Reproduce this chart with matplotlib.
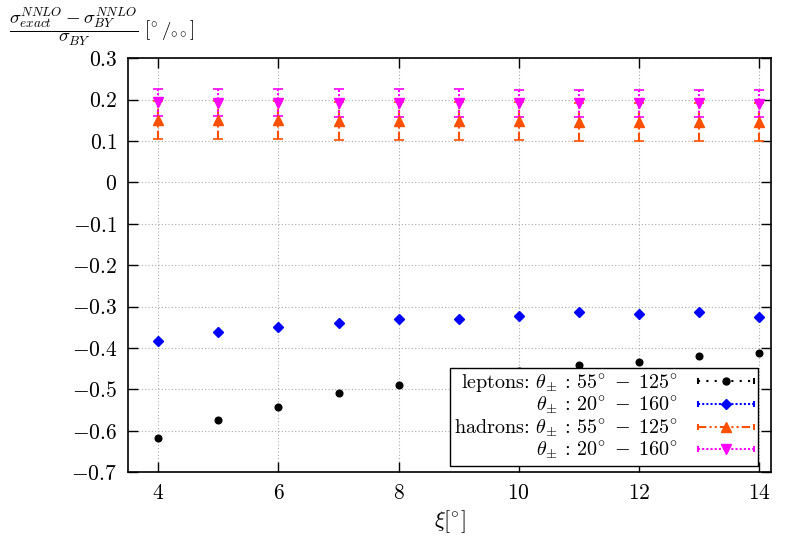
"""
Relative difference between exact NNLO and BY NNLO cross sections vs xi.
"""

import matplotlib
matplotlib.use("Agg")
import matplotlib.pyplot as plt
from matplotlib.lines import Line2D
from matplotlib.legend_handler import HandlerLine2D, HandlerTuple

plt.rcParams["font.family"] = "serif"
plt.rcParams["font.serif"] = ["cmr10", "DejaVu Serif"]
plt.rcParams["mathtext.fontset"] = "cm"
plt.rcParams["axes.formatter.use_mathtext"] = True
plt.rcParams["axes.unicode_minus"] = True

xi = [4, 5, 6, 7, 8, 9, 10, 11, 12, 13, 14]

lep_55 = [-0.618, -0.574, -0.542, -0.508, -0.489, -0.471, -0.456, -0.441, -0.433, -0.419, -0.411]
lep_20 = [-0.383, -0.361, -0.350, -0.339, -0.329, -0.329, -0.323, -0.314, -0.318, -0.312, -0.324]
had_55 = [0.152, 0.151, 0.150, 0.149, 0.149, 0.148, 0.148, 0.147, 0.147, 0.147, 0.146]
had_20 = [0.194, 0.193, 0.193, 0.192, 0.192, 0.192, 0.191, 0.191, 0.191, 0.191, 0.190]
had_55_err = [0.046] * len(xi)
had_20_err = [0.033] * len(xi)

labels = [
    r"leptons: $\theta_{\pm}$ : $55^{\circ}\;-\;125^{\circ}$",
    r"$\theta_{\pm}$ : $20^{\circ}\;-\;160^{\circ}$",
    r"hadrons: $\theta_{\pm}$ : $55^{\circ}\;-\;125^{\circ}$",
    r"$\theta_{\pm}$ : $20^{\circ}\;-\;160^{\circ}$",
]

c_black = "black"
c_blue = "#0000ff"
c_orange = "#ff5000"
c_magenta = "#ff00ff"

fig = plt.figure(figsize=(7.89, 5.52), dpi=100)
ax = fig.add_axes([0.1626, 0.1444, 0.8146, 0.75])

ax.grid(True, color="#aaaaaa", linestyle=(0, (1, 2)), linewidth=0.8)
ax.set_axisbelow(True)

# leptons (error bars too small to see)
ax.plot(xi, lep_55, linestyle="none", marker="o", markersize=4.8, color=c_black)
ax.plot(xi, lep_20, linestyle="none", marker="D", markersize=5.2, color=c_blue)

# hadrons with error bars
eb1 = ax.errorbar(xi, had_55, yerr=had_55_err, fmt="^", markersize=7.5, color=c_orange,
                  ecolor=c_orange, elinewidth=1.5, capsize=3.5, capthick=1.2)
eb1[2][0].set_linestyle((0, (4, 1.5, 1, 1.5, 1, 1.5)))
eb2 = ax.errorbar(xi, had_20, yerr=had_20_err, fmt="v", markersize=7.5, color=c_magenta,
                  ecolor=c_magenta, elinewidth=1.5, capsize=3.5, capthick=1.2)
eb2[2][0].set_linestyle((0, (1, 1)))

ax.set_xlim(3.5, 14.2)
ax.set_ylim(-0.7, 0.3)
ax.set_xticks([4, 6, 8, 10, 12, 14])
ax.set_yticks([-0.7, -0.6, -0.5, -0.4, -0.3, -0.2, -0.1, 0, 0.1, 0.2, 0.3])
ax.set_yticklabels(["$-0.7$", "$-0.6$", "$-0.5$", "$-0.4$", "$-0.3$", "$-0.2$",
                    "$-0.1$", "$0$", "$0.1$", "$0.2$", "$0.3$"])
ax.set_xticklabels(["$4$", "$6$", "$8$", "$10$", "$12$", "$14$"])
ax.tick_params(direction="in", length=7, width=1, labelsize=15.5, pad=8,
               top=True, right=True)
for sp in ax.spines.values():
    sp.set_linewidth(1.2)

ax.set_xlabel(r"$\xi[^{\circ}]$", fontsize=16, labelpad=4)
fig.text(0.012, 0.952,
         r"$\dfrac{\sigma^{NNLO}_{exact} - \sigma^{NNLO}_{BY}}{\sigma_{BY}}$ $[^{\circ}\,/_{\circ\circ}]$",
         fontsize=13.5, va="center", ha="left")

# legend handles: line sample + marker + end caps
styles = [
    (c_black, (0, (1, 3)), "o", 5),
    (c_blue, (0, (1, 1)), "D", 5.5),
    (c_orange, (0, (4, 1.5, 1, 1.5, 1, 1.5)), "^", 7),
    (c_magenta, (0, (1, 1)), "v", 7),
]
handles = []
hmap = {}
for col, ls, mk, ms in styles:
    main = Line2D([], [], color=col, linestyle=ls, linewidth=1.5, marker=mk, markersize=ms)
    caps = Line2D([], [], color=col, linestyle="none", marker="|", markersize=5,
                  markeredgewidth=1.5)
    hmap[caps] = HandlerLine2D(numpoints=2, marker_pad=0)
    handles.append((main, caps))
hmap[tuple] = HandlerTuple(ndivide=1, pad=0)

leg = ax.legend(handles, labels, handler_map=hmap,
                loc="lower right", markerfirst=False, fontsize=14.5, frameon=True,
                fancybox=False, edgecolor="black", framealpha=1, handlelength=2.8,
                labelspacing=0.0, borderpad=0.2, handletextpad=1.0,
                bbox_to_anchor=(0.98, 0.015), borderaxespad=0)
leg.get_frame().set_linewidth(1.0)
leg.set_zorder(5)

plt.savefig("out.png", dpi=100)
